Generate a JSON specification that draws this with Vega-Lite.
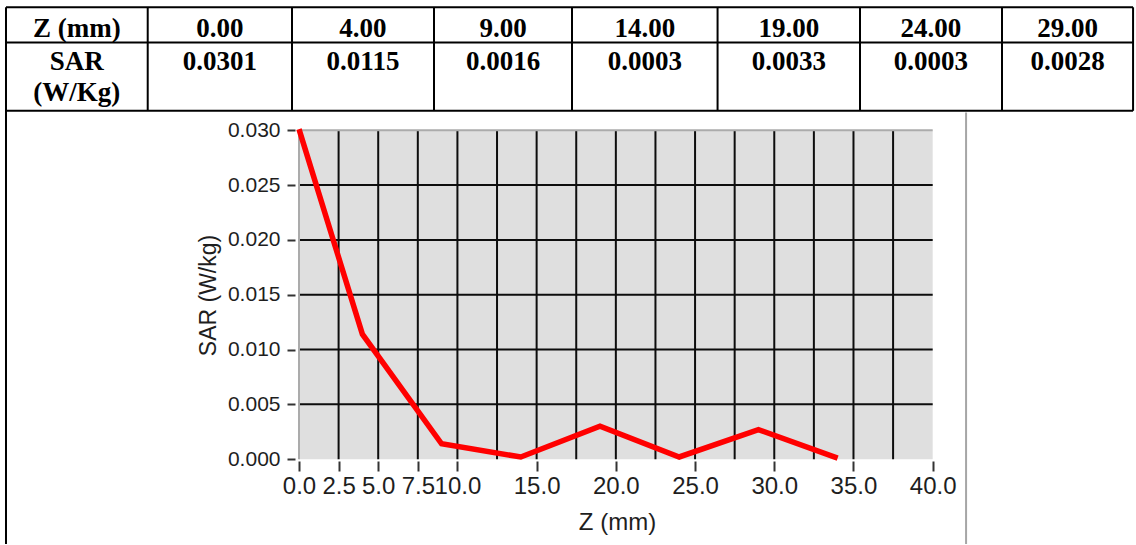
{
  "$schema": "https://vega.github.io/schema/vega-lite/v6.json",
  "width": 1136,
  "height": 545,
  "autosize": {"type": "fit", "contains": "padding"},
  "padding": 0,
  "background": "white",
  "config": {"view": {"stroke": null}},
  "datasets": {
    "tableBorders": [
      {"x1": 0, "x2": 7.937, "y1": 0, "y2": 0},
      {"x1": 0, "x2": 7.937, "y1": 1, "y2": 1},
      {"x1": 0, "x2": 7.937, "y1": 2.93, "y2": 2.93},
      {"x1": 0, "x2": 0, "y1": 0, "y2": 15.19},
      {"x1": 0.998, "x2": 0.998, "y1": 0, "y2": 2.93},
      {"x1": 2.014, "x2": 2.014, "y1": 0, "y2": 2.93},
      {"x1": 3.014, "x2": 3.014, "y1": 0, "y2": 2.93},
      {"x1": 3.986, "x2": 3.986, "y1": 0, "y2": 2.93},
      {"x1": 5.011, "x2": 5.011, "y1": 0, "y2": 2.93},
      {"x1": 6.014, "x2": 6.014, "y1": 0, "y2": 2.93},
      {"x1": 7.014, "x2": 7.014, "y1": 0, "y2": 2.93},
      {"x1": 7.937, "x2": 7.937, "y1": 0, "y2": 2.93}
    ],
    "imageEdge": [
      {"x1": 6.761, "x2": 6.761, "y1": 2.977, "y2": 15.19}
    ],
    "tableText": [
      {"col": 0.499, "line": 0.847, "label": "Z (mm)"},
      {"col": 1.506, "line": 0.847, "label": "0.00"},
      {"col": 2.514, "line": 0.847, "label": "4.00"},
      {"col": 3.5, "line": 0.847, "label": "9.00"},
      {"col": 4.4985, "line": 0.847, "label": "14.00"},
      {"col": 5.5125, "line": 0.847, "label": "19.00"},
      {"col": 6.514, "line": 0.847, "label": "24.00"},
      {"col": 7.4755, "line": 0.847, "label": "29.00"},
      {"col": 0.499, "line": 1.771, "label": "SAR"},
      {"col": 1.506, "line": 1.771, "label": "0.0301"},
      {"col": 2.514, "line": 1.771, "label": "0.0115"},
      {"col": 3.5, "line": 1.771, "label": "0.0016"},
      {"col": 4.4985, "line": 1.771, "label": "0.0003"},
      {"col": 5.5125, "line": 1.771, "label": "0.0033"},
      {"col": 6.514, "line": 1.771, "label": "0.0003"},
      {"col": 7.4755, "line": 1.771, "label": "0.0028"},
      {"col": 0.499, "line": 2.647, "label": "(W/Kg)"}
    ],
    "plotBg": [
      {"z0": 0, "z1": 40, "s0": 0, "s1": 0.03}
    ],
    "vGrid": [
      {"z": 2.5, "s0": 0, "s1": 0.03},
      {"z": 5, "s0": 0, "s1": 0.03},
      {"z": 7.5, "s0": 0, "s1": 0.03},
      {"z": 10, "s0": 0, "s1": 0.03},
      {"z": 12.5, "s0": 0, "s1": 0.03},
      {"z": 15, "s0": 0, "s1": 0.03},
      {"z": 17.5, "s0": 0, "s1": 0.03},
      {"z": 20, "s0": 0, "s1": 0.03},
      {"z": 22.5, "s0": 0, "s1": 0.03},
      {"z": 25, "s0": 0, "s1": 0.03},
      {"z": 27.5, "s0": 0, "s1": 0.03},
      {"z": 30, "s0": 0, "s1": 0.03},
      {"z": 32.5, "s0": 0, "s1": 0.03},
      {"z": 35, "s0": 0, "s1": 0.03},
      {"z": 37.5, "s0": 0, "s1": 0.03}
    ],
    "hGrid": [
      {"s": 0.005, "z0": 0, "z1": 40},
      {"s": 0.01, "z0": 0, "z1": 40},
      {"s": 0.015, "z0": 0, "z1": 40},
      {"s": 0.02, "z0": 0, "z1": 40},
      {"s": 0.025, "z0": 0, "z1": 40}
    ],
    "plotEdge": [
      {"z0": 0, "z1": 40, "s0": 0.03, "s1": 0.03},
      {"z0": 0, "z1": 0, "s0": 0, "s1": 0.03}
    ],
    "sar": [
      {"z": 0, "sar": 0.0301},
      {"z": 4, "sar": 0.0114},
      {"z": 9, "sar": 0.0014},
      {"z": 14, "sar": 0.0002},
      {"z": 19, "sar": 0.003},
      {"z": 24, "sar": 0.0002},
      {"z": 29, "sar": 0.0027},
      {"z": 34, "sar": 0.0001}
    ]
  },
  "layer": [
    {
      "data": {"name": "tableBorders"},
      "mark": {"type": "rule", "color": "black", "strokeWidth": 2},
      "encoding": {
        "x": {"field": "x1", "type": "quantitative", "scale": {"domain": [-0.04225, 7.9577], "nice": false, "zero": false}, "axis": null},
        "x2": {"field": "x2"},
        "y": {"field": "y1", "type": "quantitative", "scale": {"domain": [-0.206, 15.19], "nice": false, "zero": false, "reverse": true}, "axis": null},
        "y2": {"field": "y2"}
      }
    },
    {
      "data": {"name": "imageEdge"},
      "mark": {"type": "rule", "color": "#a6a6a6", "strokeWidth": 2},
      "encoding": {
        "x": {"field": "x1", "type": "quantitative", "scale": {"domain": [-0.04225, 7.9577], "nice": false, "zero": false}, "axis": null},
        "x2": {"field": "x2"},
        "y": {"field": "y1", "type": "quantitative", "scale": {"domain": [-0.206, 15.19], "nice": false, "zero": false, "reverse": true}, "axis": null},
        "y2": {"field": "y2"}
      }
    },
    {
      "data": {"name": "tableText"},
      "mark": {"type": "text", "font": "Liberation Serif", "fontWeight": "bold", "fontSize": 27, "baseline": "alphabetic", "align": "center", "color": "black"},
      "encoding": {
        "x": {"field": "col", "type": "quantitative", "scale": {"domain": [-0.04225, 7.9577], "nice": false, "zero": false}, "axis": null},
        "y": {"field": "line", "type": "quantitative", "scale": {"domain": [-0.206, 15.19], "nice": false, "zero": false, "reverse": true}, "axis": null},
        "text": {"field": "label", "type": "nominal"}
      }
    },
    {
      "data": {"name": "plotBg"},
      "mark": {"type": "rect", "color": "#dfdfdf"},
      "encoding": {
        "x": {"field": "z0", "type": "quantitative", "scale": {"domain": [-18.873, 52.833], "nice": false, "zero": false}, "axis": null},
        "x2": {"field": "z1"},
        "y": {"field": "s0", "type": "quantitative", "scale": {"domain": [-0.007739, 0.041883], "nice": false, "zero": false}, "axis": null},
        "y2": {"field": "s1"}
      }
    },
    {
      "data": {"name": "vGrid"},
      "mark": {"type": "rule", "color": "#0d0d0d", "strokeWidth": 2},
      "encoding": {
        "x": {"field": "z", "type": "quantitative", "scale": {"domain": [-18.873, 52.833], "nice": false, "zero": false}, "axis": null},
        "y": {"field": "s0", "type": "quantitative", "scale": {"domain": [-0.007739, 0.041883], "nice": false, "zero": false}, "axis": null},
        "y2": {"field": "s1"}
      }
    },
    {
      "data": {"name": "hGrid"},
      "mark": {"type": "rule", "color": "#0d0d0d", "strokeWidth": 2},
      "encoding": {
        "y": {"field": "s", "type": "quantitative", "scale": {"domain": [-0.007739, 0.041883], "nice": false, "zero": false}, "axis": null},
        "x": {"field": "z0", "type": "quantitative", "scale": {"domain": [-18.873, 52.833], "nice": false, "zero": false}, "axis": null},
        "x2": {"field": "z1"}
      }
    },
    {
      "data": {"name": "plotEdge"},
      "mark": {"type": "rule", "color": "#ababab", "strokeWidth": 2},
      "encoding": {
        "x": {"field": "z0", "type": "quantitative", "scale": {"domain": [-18.873, 52.833], "nice": false, "zero": false}, "axis": null},
        "x2": {"field": "z1"},
        "y": {"field": "s0", "type": "quantitative", "scale": {"domain": [-0.007739, 0.041883], "nice": false, "zero": false}, "axis": null},
        "y2": {"field": "s1"}
      }
    },
    {
      "data": {"name": "sar"},
      "mark": {"type": "line", "color": "#ff0000", "strokeWidth": 5.5},
      "encoding": {
        "x": {
          "field": "z", "type": "quantitative",
          "scale": {"domain": [-18.873, 52.833], "nice": false, "zero": false},
          "axis": {
            "values": [0, 2.5, 5, 7.5, 10, 15, 20, 25, 30, 35, 40],
            "format": ".1f", "domain": false, "grid": false, "offset": -83,
            "tickSize": 10, "tickWidth": 2, "tickColor": "#333333",
            "labelFont": "Liberation Sans Narrow, Liberation Sans", "labelFontSize": 24, "labelColor": "#1e1e1e",
            "labelPadding": 3, "labelOverlap": false, "labelFlush": false,
            "title": "Z (mm)", "titleFont": "Liberation Sans Narrow, Liberation Sans", "titleFontSize": 24,
            "titleFontWeight": "normal", "titleColor": "#1e1e1e",
            "titleX": 617, "titleY": 68, "titleAlign": "center", "titleBaseline": "alphabetic"
          }
        },
        "y": {
          "field": "sar", "type": "quantitative",
          "scale": {"domain": [-0.007739, 0.041883], "nice": false, "zero": false},
          "axis": {
            "values": [0, 0.005, 0.01, 0.015, 0.02, 0.025, 0.03],
            "format": ".3f", "domain": false, "grid": false, "offset": -295,
            "tickSize": 8, "tickWidth": 2, "tickColor": "#333333",
            "labelFont": "Liberation Sans", "labelFontSize": 21, "labelColor": "#1e1e1e",
            "labelPadding": 7, "labelOverlap": false, "labelFlush": false,
            "title": "SAR (W/kg)", "titleFont": "Liberation Sans", "titleFontSize": 23,
            "titleFontWeight": "normal", "titleColor": "#1e1e1e",
            "titleX": -79.5, "titleY": 295, "titleAlign": "center", "titleBaseline": "alphabetic", "titleAngle": -90
          }
        }
      }
    }
  ],
  "resolve": {"scale": {"x": "independent", "y": "independent"}}
}
